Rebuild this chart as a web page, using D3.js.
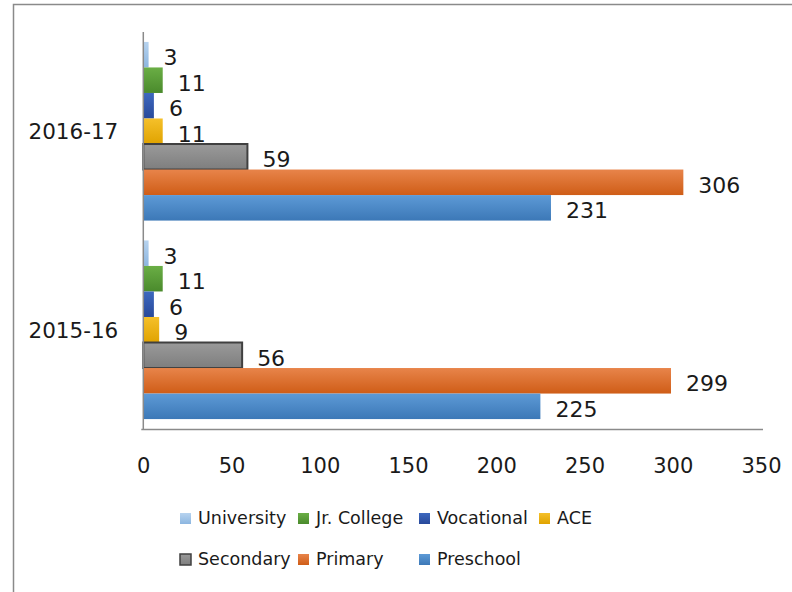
<!DOCTYPE html>
<html>
<head>
<meta charset="utf-8">
<script src="https://cdn.jsdelivr.net/npm/d3@7"></script>
<style>
  html, body { margin: 0; padding: 0; background: #fff; }
  svg { display: block; }
  text { font-family: "DejaVu Sans", sans-serif; fill: #1a1a1a; }
</style>
</head>
<body>
<svg id="chart" width="792" height="592"></svg>
<script>
// ---- data ----
const years = ["2016-17", "2015-16"];
const seriesNames = ["University", "Jr. College", "Vocational", "ACE", "Secondary", "Primary", "Preschool"];
const values2016 = [3, 11, 6, 11, 59, 306, 231];
const values2015 = [3, 11, 6, 9, 56, 299, 225];
const xTicks = [0, 50, 100, 150, 200, 250, 300, 350];
const legendRow1 = ["University", "Jr. College", "Vocational", "ACE"];
const legendRow2 = ["Secondary", "Primary", "Preschool"];

const valuesByYear = { "2016-17": values2016, "2015-16": values2015 };

// ---- styles ----
const colors = {
  "University":  ["#b7d3ef", "#8cb6e0"],
  "Jr. College": ["#6aae45", "#4a8a2c"],
  "Vocational":  ["#3d68bf", "#28499a"],
  "ACE":         ["#f5c02a", "#e0a300"],
  "Secondary":   ["#9a9a9a", "#7e7e7e"],
  "Primary":     ["#e8844a", "#cf5d17"],
  "Preschool":   ["#5d9ad6", "#3c78b7"]
};

const svg = d3.select("#chart");
const defs = svg.append("defs");
seriesNames.forEach((s, i) => {
  const g = defs.append("linearGradient").attr("id", "grad" + i)
    .attr("x1", 0).attr("y1", 0).attr("x2", 0).attr("y2", 1);
  g.append("stop").attr("offset", "0%").attr("stop-color", colors[s][0]);
  g.append("stop").attr("offset", "100%").attr("stop-color", colors[s][1]);
});

// frame
svg.append("path").attr("d", "M13.5,600 L13.5,4.5 L800,4.5")
  .attr("fill", "none").attr("stroke", "#8a8a8a").attr("stroke-width", 1.5);

// ---- scales ----
const x = d3.scaleLinear().domain([0, 350]).range([143.3, 761]);
const y = d3.scaleBand().domain(years).range([32, 429]).paddingInner(0.1).paddingOuter(0.05);
const yInner = d3.scaleBand().domain(seriesNames).range([0, y.bandwidth()]).padding(0);

// ---- bars ----
const groups = svg.append("g").selectAll("g").data(years).join("g")
  .attr("transform", d => `translate(0,${y(d)})`);

groups.selectAll("rect")
  .data(yr => seriesNames.map((s, i) => ({ s, i, v: valuesByYear[yr][i] })))
  .join("rect")
  .attr("x", x(0))
  .attr("y", d => yInner(d.s))
  .attr("width", d => x(d.v) - x(0))
  .attr("height", yInner.bandwidth())
  .attr("fill", d => `url(#grad${d.i})`)
  .attr("stroke", d => d.s === "Secondary" ? "#404040" : "none")
  .attr("stroke-width", d => d.s === "Secondary" ? 2 : 0);

groups.selectAll("text.lbl")
  .data(yr => seriesNames.map((s, i) => ({ s, i, v: valuesByYear[yr][i] })))
  .join("text").attr("class", "lbl")
  .attr("x", d => x(d.v) + 15)
  .attr("y", d => yInner(d.s) + yInner.bandwidth() / 2 + 10.5)
  .attr("font-size", 22)
  .text(d => d.v);

// ---- axes ----
const xAxis = svg.append("g").attr("transform", "translate(0,429)")
  .call(d3.axisBottom(x).tickValues(xTicks).tickSize(0).tickPadding(0));
xAxis.select(".domain").attr("stroke", "#8a8a8a").attr("stroke-width", 1.5)
  .attr("d", `M${x(0) - 2},0.5H763`);
xAxis.selectAll("text").attr("font-size", 21).attr("y", 44).attr("dy", 0)
  .attr("font-family", "DejaVu Sans").attr("fill", "#1a1a1a");

const yAxis = svg.append("g").attr("transform", `translate(${x(0)},0)`)
  .call(d3.axisLeft(y).tickSize(0).tickPadding(25));
yAxis.select(".domain").attr("stroke", "#8a8a8a").attr("stroke-width", 1.5)
  .attr("d", "M0,32V430");
yAxis.selectAll("text").attr("font-size", 21.5).attr("dy", "0.36em")
  .attr("font-family", "DejaVu Sans").attr("fill", "#1a1a1a");

// ---- legend ----
const legendPos = {
  "University": [180, 518], "Jr. College": [298, 518], "Vocational": [419, 518], "ACE": [539, 518],
  "Secondary": [180, 559], "Primary": [298, 559], "Preschool": [419, 559]
};
const legend = svg.append("g");
[legendRow1, legendRow2].forEach(row => {
  row.forEach(s => {
    const i = seriesNames.indexOf(s);
    const [lx, ly] = legendPos[s];
    const g = legend.append("g").attr("transform", `translate(${lx},${ly})`);
    g.append("rect").attr("x", 0).attr("y", -5).attr("width", 11).attr("height", 11)
      .attr("fill", `url(#grad${i})`)
      .attr("stroke", s === "Secondary" ? "#404040" : "none")
      .attr("stroke-width", s === "Secondary" ? 1.5 : 0);
    g.append("text").attr("x", 18).attr("y", 0).attr("dy", "0.36em")
      .attr("font-size", 17.5).text(s);
  });
});
</script>
</body>
</html>
